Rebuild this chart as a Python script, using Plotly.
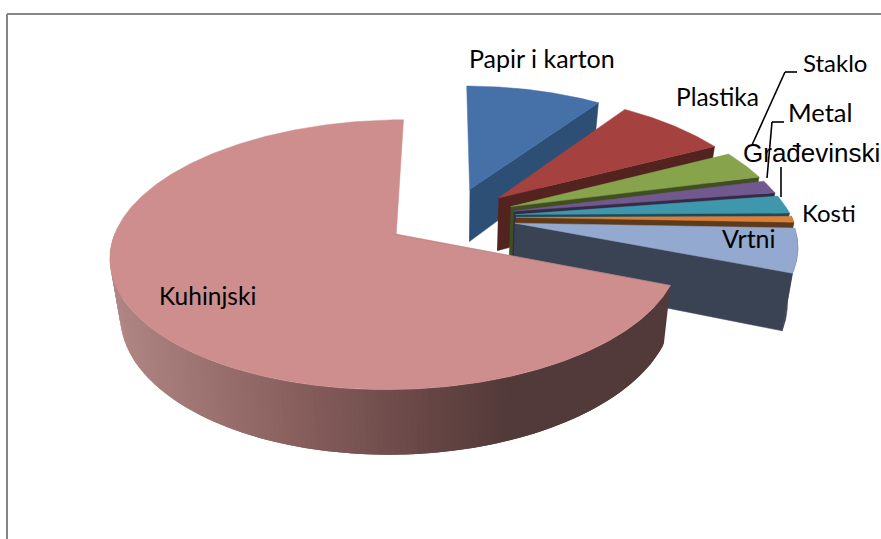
import numpy as np
import plotly.graph_objects as go

# ---- data (share of waste, %), clockwise from 12 o'clock
categories = ["Papir i karton", "Plastika", "Staklo", "Metal", "Građevinski", "Kosti", "Vrtni", "Kuhinjski"]
values = [9.7, 7.8, 3.5, 1.6, 2.2, 0.8, 5.4, 69.0]
top_colors = ["#4571a8", "#a5423f", "#87a34c", "#71588f", "#3f97ad", "#d9803c", "#93a9cf", "#cd8e8d"]
wall_colors = ["#2d4f75", "#532320", "#3f4f22", "#352a45", "#1d4a55", "#5f3a1a", "#3a4354", "#533a3a"]

# ---- projection of the tilted, exploded pie onto the page
CX, CY, RX, RY, K, KX, DEPTH, SHRINK, EXPLODE = 451, 217, 276, 126.6, 0.15, 0.195, 54, 0.03, 0.235


def top(x, y, kx=K):
    s = 1 / (1 + K * y)
    sx = 1 / (1 + np.where(y > 0, kx, K) * y)
    return CX + RX * x * sx, CY - RY * y * s


def bottom(x, y, kx=K):
    sx, sy = top(x, y, kx)
    return CX + (sx - CX) * (1 - SHRINK), sy + DEPTH / (1 + K * y)


def poly(xs, ys, color, width=0.5):
    return go.Scatter(x=list(xs), y=list(ys), mode="lines", fill="toself", fillcolor=color,
                      line=dict(color=color, width=width), hoverinfo="skip", showlegend=False)


def mix(a, b, t):
    a = [int(a[i:i + 2], 16) for i in (1, 3, 5)]
    b = [int(b[i:i + 2], 16) for i in (1, 3, 5)]
    return "rgb(%d,%d,%d)" % tuple(p + (q - p) * t for p, q in zip(a, b))


GRAD_X = [120, 290, 430, 510]
GRAD_C = ["#b08684", "#8a615f", "#664645", "#533a3a"]


def gradient(px):
    if px >= GRAD_X[-1]:
        return GRAD_C[-1]
    px = max(px, GRAD_X[0])
    i = min(np.searchsorted(GRAD_X, px, side="right") - 1, len(GRAD_X) - 2)
    return mix(GRAD_C[i], GRAD_C[i + 1], (px - GRAD_X[i]) / (GRAD_X[i + 1] - GRAD_X[i]))


fig = go.Figure()
total = sum(values)
angle = 90.0
for name, v, tc, wc in zip(categories, values, top_colors, wall_colors):
    start, end = angle, angle - 360 * v / total   # clockwise
    angle = end
    th = np.radians(np.linspace(start, end, max(int(abs(end - start) * 2), 12)))
    mid = np.radians((start + end) / 2)
    ax, ay = EXPLODE * np.cos(mid), EXPLODE * np.sin(mid)
    ex, ey = ax + np.cos(th), ay + np.sin(th)
    is_big = name == "Kuhinjski"
    kx = K if is_big else KX

    # outer wall
    front = np.sin(th) < 0.02
    idx = np.where(front)[0]
    if len(idx) > 1:
        if is_big:
            # strips painted right to left, each one overlapping the next so no seams show
            step = 2
            for n in range(0, len(idx) - 1, step):
                seg = idx[n:n + step + 3]
                tx1, ty1 = top(ex[seg], ey[seg], kx); bx1, by1 = bottom(ex[seg], ey[seg], kx)
                m = min(step, len(seg) - 1) // 2
                col = gradient((tx1[m] + bx1[m]) / 2)
                fig.add_trace(poly(list(tx1) + list(bx1[::-1]), list(ty1) + list(by1[::-1]), col, 0))
        else:
            tx1, ty1 = top(ex[idx], ey[idx], kx); bx1, by1 = bottom(ex[idx], ey[idx], kx)
            fig.add_trace(poly(list(tx1) + list(bx1[::-1]), list(ty1) + list(by1[::-1]), wc))

    # cut face on the clockwise edge
    if not is_big:
        px = np.array([ax, ex[-1]]); py = np.array([ay, ey[-1]])
        tx1, ty1 = top(px, py, kx); bx1, by1 = bottom(px, py, kx)
        fig.add_trace(poly(list(tx1) + list(bx1[::-1]), list(ty1) + list(by1[::-1]), wc))

    # top face
    sx, sy = top(np.r_[ax, ex], np.r_[ay, ey], kx)
    fig.add_trace(poly(np.r_[sx, sx[0]], np.r_[sy, sy[0]], tc))

    if is_big:   # thin visible cut face of the large slice
        fig.add_trace(poly([sx[1], sx[0], sx[0] - 4], [sy[1], sy[0], sy[0]], "#b08282"))

LATO = "Lato"
labels = [
    ("Papir i karton", 542, 58, LATO, 25),
    ("Plastika", 717, 96, LATO, 24.5),
    ("Staklo", 835, 62, LATO, 24),
    ("Metal", 820, 112, LATO, 25.5),
    ("Građevinski", 811, 153, "Liberation Sans", 26),
    ("Kosti", 829, 212, LATO, 24),
    ("Vrtni", 749, 238, LATO, 25),
    ("Kuhinjski", 207, 295, LATO, 24.5),
]
annotations = [dict(x=x, y=y, text=t, showarrow=False, xanchor="center", yanchor="middle",
                    font=dict(family=f, size=s, color="#000000")) for t, x, y, f, s in labels]

leaders = [
    [(797, 72), (785, 72), (752, 145)],
    [(784, 122), (772, 122), (767, 178)],
    [(781, 167), (781, 197)],
]
shapes = [dict(type="line", x0=7, x1=7, y0=14, y1=539, line=dict(color="#868686", width=2)),
          dict(type="line", x0=7, x1=881, y0=14, y1=14, line=dict(color="#868686", width=2))]
for pts in leaders:
    for (x0, y0), (x1, y1) in zip(pts[:-1], pts[1:]):
        shapes.append(dict(type="line", x0=x0, x1=x1, y0=y0, y1=y1, line=dict(color="#000000", width=1.6)))

fig.update_layout(
    width=881, height=539, autosize=False,
    margin=dict(l=0, r=0, t=0, b=0),
    paper_bgcolor="white", plot_bgcolor="white",
    xaxis=dict(range=[0, 881], visible=False, fixedrange=True),
    yaxis=dict(range=[539, 0], visible=False, fixedrange=True),
    annotations=annotations, shapes=shapes, showlegend=False,
)
fig.write_html("out.html", config=dict(displayModeBar=False),
               post_script="document.body.style.margin='0';document.body.style.overflow='hidden';")
